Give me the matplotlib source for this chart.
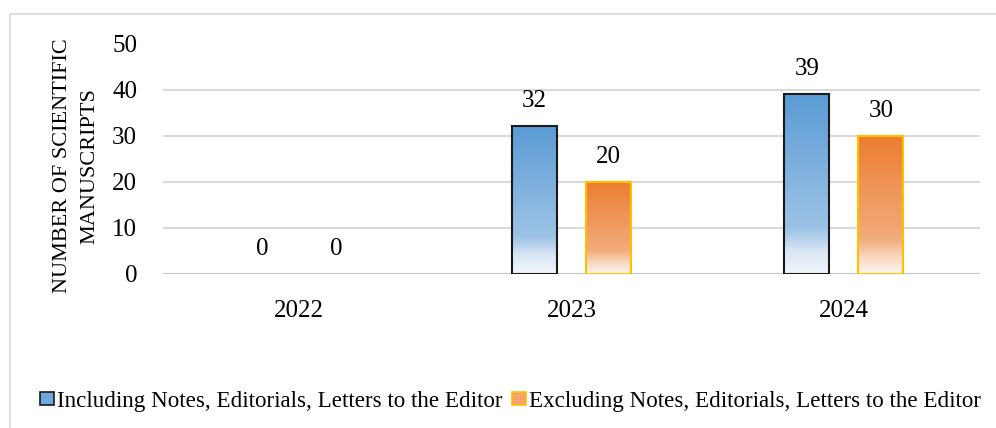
import matplotlib
matplotlib.use("Agg")
import matplotlib.pyplot as plt
import numpy as np
from matplotlib.patches import Rectangle
from matplotlib.colors import LinearSegmentedColormap

years = ["2022", "2023", "2024"]
including = [0, 32, 39]
excluding = [0, 20, 30]
series_names = ["Including Notes, Editorials, Letters to the Editor",
                "Excluding Notes, Editorials, Letters to the Editor"]
yticks = [0, 10, 20, 30, 40, 50]

plt.rcParams['font.family'] = ['Liberation Serif', 'DejaVu Serif']

fig = plt.figure(figsize=(9.96, 4.28), dpi=100)
ax = fig.add_axes([163/996, 1-274/428, (980-163)/996, (274-43.5)/428])

# outer chart border
fig.patches.append(Rectangle((10/996, -0.05), 1.1, 1-14/428+0.05, transform=fig.transFigure,
                             fill=False, edgecolor='#D9D9D9', linewidth=1.2, zorder=0))

x = np.arange(len(years))
w = 0.165
off = 0.136

blue_cmap = LinearSegmentedColormap.from_list(
    "b", [(0, "#F2F6FB"), (0.12, "#DCE8F5"), (0.25, "#9DC3E6"), (1.0, "#5B9BD5")])
orange_cmap = LinearSegmentedColormap.from_list(
    "o", [(0, "#FEF6F0"), (0.12, "#F9D7C0"), (0.25, "#F2AC7C"), (1.0, "#ED7D31")])

grad = np.linspace(0, 1, 256).reshape(-1, 1)

b1 = ax.bar(x - off, including, w, facecolor='none', edgecolor='#1A1A1A', linewidth=1.5, zorder=4)
b2 = ax.bar(x + off, excluding, w, facecolor='none', edgecolor='#FFC000', linewidth=1.5, zorder=4)

for bars, cmap in ((b1, blue_cmap), (b2, orange_cmap)):
    for r in bars:
        h = r.get_height()
        if h <= 0:
            r.set_linewidth(0)
            continue
        x0 = r.get_x()
        ax.imshow(grad, cmap=cmap, origin='lower', aspect='auto',
                  extent=(x0, x0 + r.get_width(), 0, h), zorder=3, interpolation='bicubic')

for bars in (b1, b2):
    for r in bars:
        h = r.get_height()
        ax.annotate(f"{h:g}", (r.get_x() + r.get_width()/2, h), xytext=(0, 18),
                    textcoords='offset points', ha='center', va='center', fontsize=18)

ax.set_xlim(-0.5, 2.5)
ax.set_ylim(0, 50)
ax.set_yticks(yticks)
ax.set_xticks(x)
ax.set_xticklabels(years)
ax.tick_params(axis='both', length=0, labelsize=18)
ax.tick_params(axis='y', pad=18.7)
ax.tick_params(axis='x', pad=19)
ax.grid(axis='y', color='#D9D9D9', linewidth=1.5, zorder=0)
ax.set_axisbelow(True)
for s in ax.spines.values():
    s.set_visible(False)
ax.axhline(0, color='#C8C8C8', linewidth=1.5, zorder=2)

fig.text(76/996, 1-166/428, "NUMBER OF SCIENTIFIC\nMANUSCRIPTS", rotation=90,
         ha='center', va='center', fontsize=16, linespacing=1.6, multialignment='center')

handles = [Rectangle((0, 0), 1, 1, facecolor='#6FA8DC', edgecolor='#1A1A1A', linewidth=1.2),
           Rectangle((0, 0), 1, 1, facecolor='#F4A46C', edgecolor='#FFC000', linewidth=1.2)]
fig.legend(handles, series_names, loc='center', bbox_to_anchor=(510.5/996, 1-401/428), ncol=2,
           frameon=False, fontsize=16.6, handlelength=0.6, handleheight=0.5,
           handletextpad=0.15, columnspacing=0.4, borderpad=0, borderaxespad=0)

fig.savefig("out.png", dpi=100)
